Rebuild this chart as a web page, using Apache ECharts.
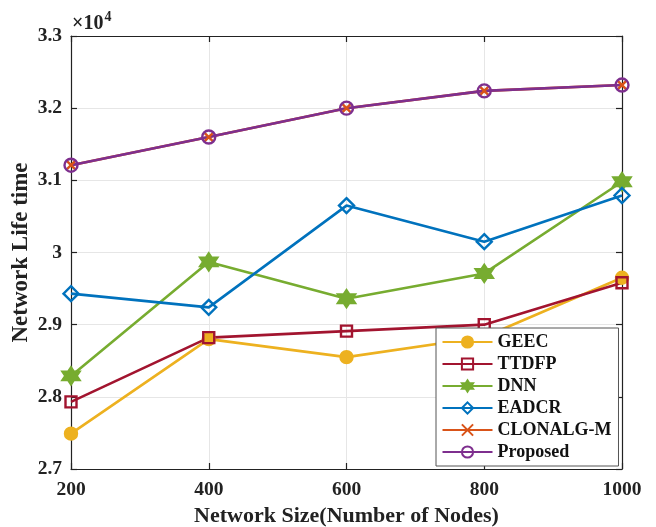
<!DOCTYPE html>
<html>
<head>
<meta charset="utf-8">
<script src="https://cdn.jsdelivr.net/npm/echarts@6/dist/echarts.min.js"></script>
<style>
  html, body { margin: 0; padding: 0; background: #fff; }
  #chart { width: 656px; height: 527px; }
</style>
</head>
<body>
<div id="chart"></div>
<script>
// Network size (number of nodes)
const nodeCounts = [200, 400, 600, 800, 1000];
const xTicks = [200, 400, 600, 800, 1000];
const yTicks = [2.7, 2.8, 2.9, 3.0, 3.1, 3.2, 3.3];

// Network lifetime, in units of 10^4
const geec      = [2.749, 2.880, 2.855, 2.883, 2.965];
const ttdfp     = [2.793, 2.882, 2.891, 2.900, 2.958];
const dnn       = [2.829, 2.987, 2.936, 2.971, 3.098];
const eadcr     = [2.943, 2.924, 3.065, 3.015, 3.079];
const clonalgM  = [3.121, 3.160, 3.200, 3.224, 3.232];
const proposed  = [3.121, 3.160, 3.200, 3.224, 3.232];

const seriesNames = ['GEEC', 'TTDFP', 'DNN', 'EADCR', 'CLONALG-M', 'Proposed'];

const FONT = '"Liberation Serif", "Times New Roman", serif';

const HEXAGRAM = 'path://M0,-1 L0.2887,-0.5 L0.866,-0.5 L0.5774,0 L0.866,0.5 L0.2887,0.5 L0,1 L-0.2887,0.5 L-0.866,0.5 L-0.5774,0 L-0.866,-0.5 L-0.2887,-0.5 Z';
const CROSS = 'path://M0,0 L10,10 M10,0 L0,10';

function pairs(vals) {
  return nodeCounts.map((x, i) => [x, vals[i]]);
}

function lineSeries(name, vals, color, symbol, size, filled) {
  return {
    name: name,
    type: 'line',
    data: pairs(vals),
    color: color,
    symbol: symbol,
    symbolSize: size,
    showAllSymbol: true,
    lineStyle: { color: color, width: 2.6 },
    itemStyle: {
      color: filled ? color : 'rgba(255,255,255,0)',
      borderColor: color,
      borderWidth: 2.4
    },
    emphasis: { disabled: true },
    z: 3
  };
}

const chart = echarts.init(document.getElementById('chart'), null, { renderer: 'canvas' });

const axisLineStyle = { show: true, lineStyle: { color: '#222', width: 1.2 } };
const tickStyle = { show: true, inside: true, length: 6, lineStyle: { color: '#222', width: 1.2 } };

chart.setOption({
  animation: false,
  backgroundColor: '#ffffff',
  grid: { left: 71, right: 34, top: 36, bottom: 58, containLabel: false, outerBoundsMode: 'none' },
  xAxis: [
    {
      type: 'value', min: 200, max: 1000, interval: 200, position: 'bottom',
      axisLine: axisLineStyle,
      axisTick: tickStyle,
      axisLabel: {
        color: '#222', fontFamily: FONT, fontWeight: 'bold', fontSize: 19.5, margin: 11,
        formatter: v => xTicks.includes(v) ? String(v) : ''
      },
      splitLine: { show: true, lineStyle: { color: '#e6e6e6', width: 1 } },
      name: 'Network Size(Number of Nodes)', nameLocation: 'middle', nameGap: 36,
      nameMoveOverlap: false,
      nameTextStyle: { color: '#222', fontFamily: FONT, fontWeight: 'bold', fontSize: 22 }
    },
    {
      type: 'value', min: 200, max: 1000, interval: 200, position: 'top',
      axisLine: axisLineStyle,
      axisTick: tickStyle,
      axisLabel: { show: false }, splitLine: { show: false }
    }
  ],
  yAxis: [
    {
      type: 'value', min: 2.7, max: 3.3, interval: 0.1, position: 'left',
      axisLine: axisLineStyle,
      axisTick: tickStyle,
      axisLabel: {
        color: '#222', fontFamily: FONT, fontWeight: 'bold', fontSize: 19.5, margin: 9,
        formatter: v => {
          const r = +v.toFixed(1);
          return yTicks.some(t => Math.abs(t - r) < 1e-9) ? String(r) : '';
        }
      },
      splitLine: { show: true, lineStyle: { color: '#e6e6e6', width: 1 } },
      name: 'Network Life time', nameLocation: 'middle', nameGap: 38, nameRotate: 90,
      nameMoveOverlap: false,
      nameTextStyle: { color: '#222', fontFamily: FONT, fontWeight: 'bold', fontSize: 23 }
    },
    {
      type: 'value', min: 2.7, max: 3.3, interval: 0.1, position: 'right',
      axisLine: axisLineStyle,
      axisTick: tickStyle,
      axisLabel: { show: false }, splitLine: { show: false }
    }
  ],
  legend: {
    data: seriesNames,
    orient: 'vertical',
    left: 436, top: 328,
    padding: [5, 7, 5, 5.5],
    itemWidth: 50, itemHeight: 14, itemGap: 4,
    backgroundColor: '#ffffff',
    borderColor: '#555', borderWidth: 1,
    textStyle: { color: '#111', fontFamily: FONT, fontWeight: 'bold', fontSize: 18, lineHeight: 18 },
    selectedMode: false
  },
  graphic: [
    {
      type: 'text', left: 72, top: 10,
      style: {
        text: '{a|\u00d710}{b|4}',
        rich: {
          a: { fontFamily: FONT, fontWeight: 'bold', fontSize: 20, fill: '#222', verticalAlign: 'bottom', lineHeight: 24 },
          b: { fontFamily: FONT, fontWeight: 'bold', fontSize: 14, fill: '#222', verticalAlign: 'top', lineHeight: 24, padding: [0, 0, 10, 1] }
        }
      }
    }
  ],
  series: [
    lineSeries('GEEC', geec, '#EDB120', 'circle', 12, true),
    lineSeries('TTDFP', ttdfp, '#A2142F', 'rect', 11, false),
    lineSeries('DNN', dnn, '#77AC30', HEXAGRAM, 17, true),
    lineSeries('EADCR', eadcr, '#0072BD', 'diamond', 15, false),
    lineSeries('CLONALG-M', clonalgM, '#D95319', CROSS, 8, false),
    lineSeries('Proposed', proposed, '#7E2F8E', 'circle', 13, false)
  ]
});
</script>
</body>
</html>
